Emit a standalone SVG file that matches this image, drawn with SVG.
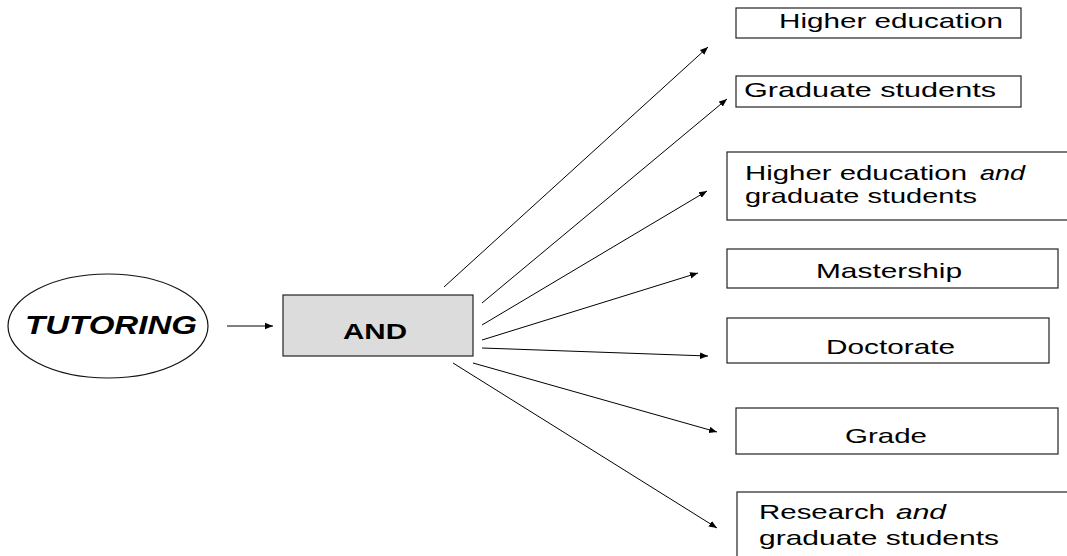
<svg xmlns="http://www.w3.org/2000/svg" width="1067" height="556" viewBox="0 0 1067 556">
  <style>
    .box { fill: #ffffff; stroke: #222222; stroke-width: 1.2; }
    .gate { fill: #dcdcdc; stroke: #222222; stroke-width: 1.2; }
    .oval { fill: #ffffff; stroke: #111111; stroke-width: 1.2; }
    .lbl { font-family: "Liberation Sans", Arial, sans-serif; font-size: 21px; fill: #000000; }
    .it { font-style: italic; }
    .big { font-family: "Liberation Sans", Arial, sans-serif; font-weight: bold; fill: #000000; }
    .conn line { stroke: #000000; stroke-width: 1; marker-end: url(#arrow); }
  </style>
  <defs>
    <marker id="arrow" viewBox="0 0 10 10" refX="10" refY="5" markerWidth="8" markerHeight="8" markerUnits="userSpaceOnUse" orient="auto">
      <path d="M0,1 L10,5 L0,9 z" fill="#000000"/>
    </marker>
  </defs>
  <rect width="1067" height="556" fill="#ffffff"/>

  <!-- source and operator -->
  <g id="tutoring">
    <ellipse class="oval" cx="108" cy="326" rx="100" ry="52"/>
    <text class="big" x="25" y="334" font-size="26" font-style="italic" textLength="172" lengthAdjust="spacingAndGlyphs">TUTORING</text>
  </g>
  <g id="and">
    <rect class="gate" x="283" y="295" width="190" height="61"/>
    <text class="big" x="343" y="339" font-size="22" textLength="64" lengthAdjust="spacingAndGlyphs">AND</text>
  </g>

  <!-- result categories -->
  <g id="higher-education">
    <rect class="box" x="736" y="8" width="285" height="30"/>
    <text class="lbl" x="779" y="28" textLength="224" lengthAdjust="spacingAndGlyphs">Higher education</text>
  </g>
  <g id="graduate-students">
    <rect class="box" x="736" y="76" width="285" height="31"/>
    <text class="lbl" x="744" y="97" textLength="252" lengthAdjust="spacingAndGlyphs">Graduate students</text>
  </g>
  <g id="higher-education-and-graduate">
    <rect class="box" x="727" y="152" width="345" height="68"/>
    <text class="lbl" x="745" y="180" textLength="222" lengthAdjust="spacingAndGlyphs">Higher education</text>
    <text class="lbl it" x="980" y="180" textLength="45" lengthAdjust="spacingAndGlyphs">and</text>
    <text class="lbl" x="745" y="203" textLength="232" lengthAdjust="spacingAndGlyphs">graduate students</text>
  </g>
  <g id="mastership">
    <rect class="box" x="727" y="249" width="331" height="39"/>
    <text class="lbl" x="816" y="278" textLength="146" lengthAdjust="spacingAndGlyphs">Mastership</text>
  </g>
  <g id="doctorate">
    <rect class="box" x="727" y="318" width="322" height="45"/>
    <text class="lbl" x="826" y="354" textLength="129" lengthAdjust="spacingAndGlyphs">Doctorate</text>
  </g>
  <g id="grade">
    <rect class="box" x="736" y="408" width="322" height="46"/>
    <text class="lbl" x="845" y="443" textLength="82" lengthAdjust="spacingAndGlyphs">Grade</text>
  </g>
  <g id="research-and-graduate">
    <rect class="box" x="737" y="492" width="340" height="80"/>
    <text class="lbl" x="759" y="519" textLength="126" lengthAdjust="spacingAndGlyphs">Research</text>
    <text class="lbl it" x="896" y="519" textLength="50" lengthAdjust="spacingAndGlyphs">and</text>
    <text class="lbl" x="759" y="545" textLength="240" lengthAdjust="spacingAndGlyphs">graduate students</text>
  </g>

  <!-- connectors -->
  <g id="connectors" class="conn">
    <line x1="227" y1="326" x2="273" y2="326"/>
    <line x1="444" y1="287" x2="708" y2="47"/>
    <line x1="482" y1="303" x2="727" y2="99"/>
    <line x1="482" y1="325" x2="707" y2="191"/>
    <line x1="482" y1="340" x2="698" y2="273"/>
    <line x1="482" y1="348" x2="708" y2="356"/>
    <line x1="473" y1="363" x2="717" y2="432"/>
    <line x1="453" y1="363" x2="717" y2="528"/>
  </g>
</svg>
